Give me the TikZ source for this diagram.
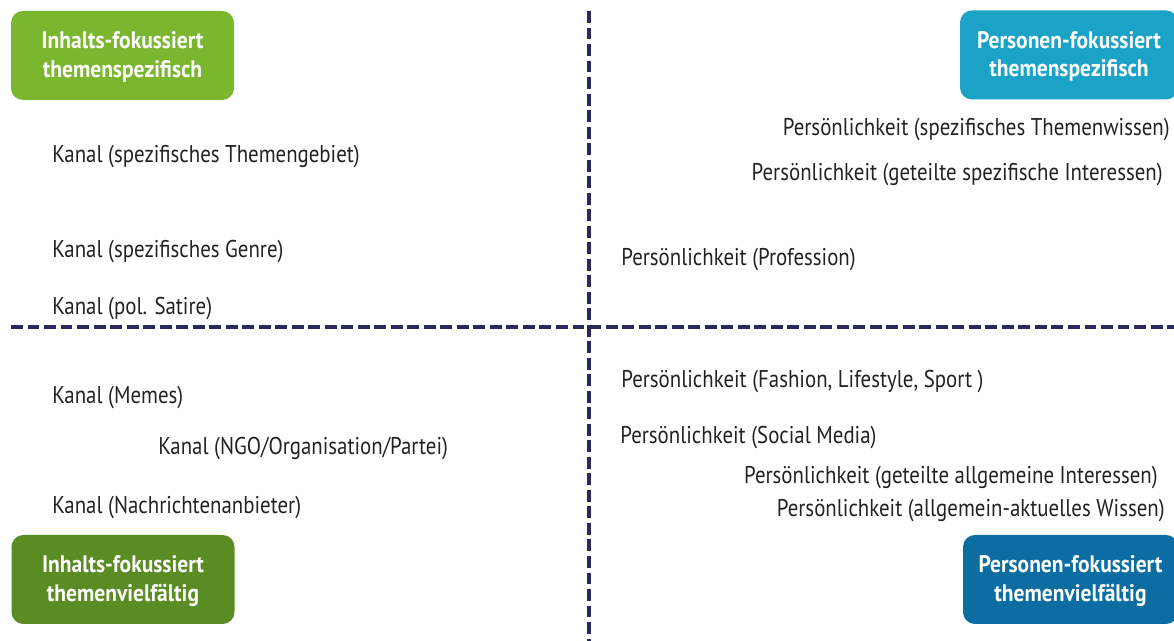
\documentclass[tikz,border=0pt]{standalone}
\usepackage{fontspec}
\setmainfont{PT Sans}[FakeStretch=0.86]
\newfontfamily\boxfont{PT Sans}[FakeStretch=0.9]
\definecolor{gA}{HTML}{7AB62E}
\definecolor{gB}{HTML}{5B8C23}
\definecolor{cA}{HTML}{1AA3C6}
\definecolor{cB}{HTML}{0B6DA2}
\definecolor{navy}{HTML}{2A285C}
\definecolor{txt}{HTML}{222222}
\tikzset{
  catbox/.style={rounded corners=6.8pt, text=white, align=center, inner sep=0pt,
    minimum width=223*0.02cm, minimum height=89*0.02cm,
    font=\boxfont\fontsize{13.6}{16.3}\selectfont\bfseries},
  lbl/.style={text=txt, inner sep=0pt, font=\fontsize{13.8}{16}\selectfont},
  axis/.style={navy, line width=2.3pt, dash pattern=on 6.8pt off 2.6pt}
}
\begin{document}
\begin{tikzpicture}[x=0.02cm,y=-0.02cm]
\useasboundingbox (0,0) rectangle (1174,641);
% axes
\coordinate (vt) at (589,11);
\coordinate (vb) at (589,645);
\coordinate (hl) at (11,327);
\coordinate (hr) at (1178,327);
\draw[axis] (hl) -- (hr);
\draw[axis] (vt) -- (vb);
% boxes
\node[catbox, fill=gA] (b1) at (122.5,55.5) {\strut Inhalts-fokussiert\\themenspezifisch};
\node[catbox, fill=cA, minimum width=218*0.02cm] (b2) at (1069,55) {\strut Personen-fokussiert\\themenspezifisch};
\node[catbox, fill=gB] (b3) at (123,579.5) {\strut Inhalts-fokussiert\\themenvielfältig};
\node[catbox, fill=cB, minimum width=215*0.02cm] (b4) at (1070.5,579.5) {\strut Personen-fokussiert\\themenvielfältig};
% left labels
\node[lbl, anchor=west] (k1) at (52,157) {Kanal (spezifisches Themengebiet)};
\node[lbl, anchor=west] (k2) at (52,252) {Kanal (spezifisches Genre)};
\node[lbl, anchor=west] (k3) at (52,309) {Kanal (pol. Satire)};
\node[lbl, anchor=west] (k4) at (52,398) {Kanal (Memes)};
\node[lbl, anchor=west] (k5) at (158,449) {Kanal (NGO/Organisation/Partei)};
\node[lbl, anchor=west] (k6) at (52,508) {Kanal (Nachrichtenanbieter)};
% right labels
\node[lbl, anchor=east] (p1) at (1170,130) {Persönlichkeit (spezifisches Themenwissen)};
\node[lbl, anchor=east] (p2) at (1163,175) {Persönlichkeit (geteilte spezifische Interessen)};
\node[lbl, anchor=west] (p3) at (621,260) {Persönlichkeit (Profession)};
\node[lbl, anchor=west] (p4) at (621,382) {Persönlichkeit (Fashion, Lifestyle, Sport )};
\node[lbl, anchor=west] (p5) at (620,438) {Persönlichkeit (Social Media)};
\node[lbl, anchor=east] (p6) at (1158,478) {Persönlichkeit (geteilte allgemeine Interessen)};
\node[lbl, anchor=east] (p7) at (1165,511) {Persönlichkeit (allgemein-aktuelles Wissen)};
\end{tikzpicture}
\end{document}
